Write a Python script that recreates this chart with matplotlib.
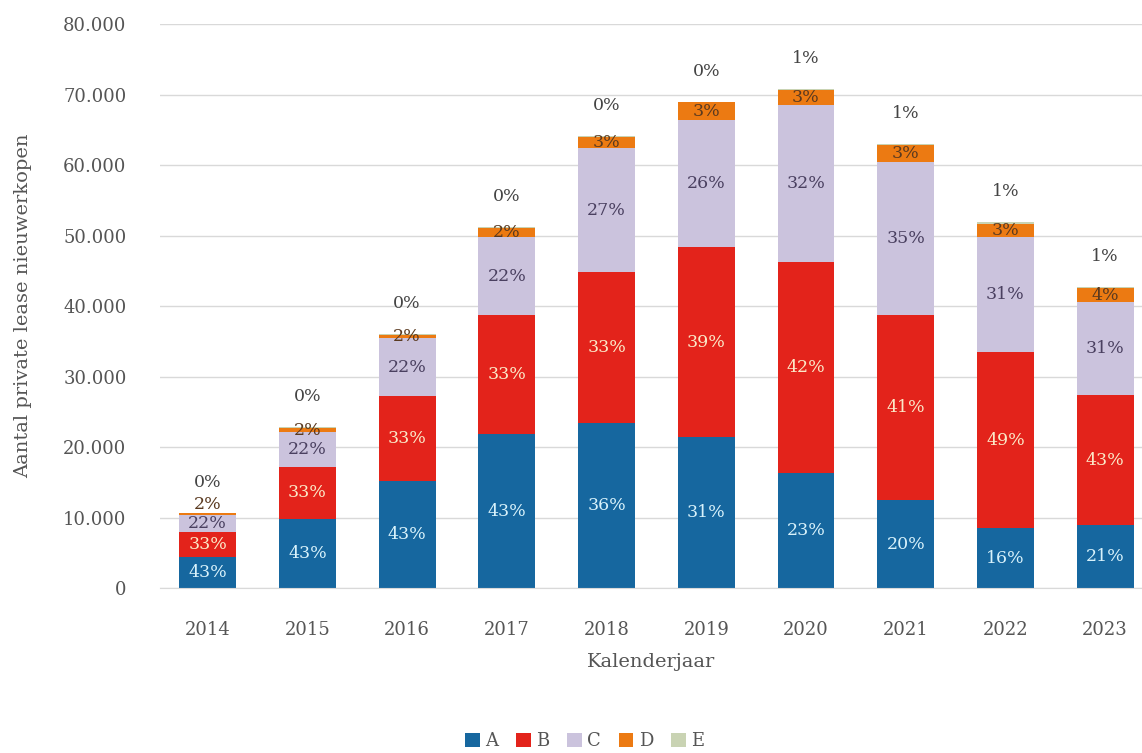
import numpy as np
import matplotlib
matplotlib.use('Agg')
import matplotlib.pyplot as plt

# data
years = ['2014', '2015', '2016', '2017', '2018', '2019', '2020', '2021', '2022', '2023']
series = ['A', 'B', 'C', 'D', 'E']
val_A = [4400, 9800, 15200, 21800, 23400, 21400, 16300, 12500, 8500, 8900]
val_B = [3500, 7400, 12000, 16900, 21400, 27000, 29900, 26200, 25000, 18500]
val_C = [2450, 4900, 8300, 11100, 17600, 18000, 22300, 21700, 16300, 13200]
val_D = [250, 600, 450, 1300, 1600, 2500, 2100, 2400, 1900, 1900]
val_E = [100, 100, 100, 100, 100, 100, 200, 200, 200, 200]

lab_A = ['43%', '43%', '43%', '43%', '36%', '31%', '23%', '20%', '16%', '21%']
lab_B = ['33%', '33%', '33%', '33%', '33%', '39%', '42%', '41%', '49%', '43%']
lab_C = ['22%', '22%', '22%', '22%', '27%', '26%', '32%', '35%', '31%', '31%']
lab_D = ['2%', '2%', '2%', '2%', '3%', '3%', '3%', '3%', '3%', '4%']
lab_E = ['0%', '0%', '0%', '0%', '0%', '0%', '1%', '1%', '1%', '1%']

colors = ['#16679f', '#e3231b', '#cbc3dd', '#ec7a12', '#c9d3b3']
text_colors = ['#d8f2fb', '#fbe9c8', '#4a4060', '#5a3a20', '#444444']

plt.rcParams['font.family'] = ['DejaVu Serif']

fig = plt.figure(figsize=(11.42, 7.53), dpi=100)
ax = fig.add_axes([0.140, 0.219, 0.860, 0.749])

x = np.arange(len(years))
values = [val_A, val_B, val_C, val_D, val_E]
labels = [lab_A, lab_B, lab_C, lab_D, lab_E]
bottom = np.zeros(len(years))
for i, s in enumerate(series):
    v = np.array(values[i], dtype=float)
    ax.bar(x, v, 0.57, bottom=bottom, color=colors[i], label=s, zorder=2)
    for j in range(len(years)):
        if i < 3:
            ax.text(x[j], bottom[j] + v[j] / 2, labels[i][j], ha='center', va='center',
                    fontsize=12.5, color=text_colors[i], zorder=3)
        elif i == 3:
            # tiny segments: nudge the label up a little so it clears the C label
            dy = 7 if v[j] < 400 else 0
            ax.annotate(labels[i][j], (x[j], bottom[j] + v[j] / 2), xytext=(0, dy),
                        textcoords='offset points', ha='center', va='center',
                        fontsize=12.5, color=text_colors[i], zorder=3)
        else:
            ax.annotate(labels[i][j], (x[j], bottom[j] + v[j]), xytext=(0, 22),
                        textcoords='offset points', ha='center', va='center',
                        fontsize=12.5, color=text_colors[i])
    bottom += v

ax.set_xlim(-0.48, 9.37)
ax.set_ylim(0, 80000)
ax.set_yticks(np.arange(0, 80001, 10000))
ax.set_yticklabels(['0'] + ['{:,}'.format(t).replace(',', '.') for t in range(10000, 80001, 10000)])
ax.set_xticks(x)
ax.set_xticklabels(years)
ax.grid(axis='y', color='#d9d9d9', linewidth=1, zorder=0)
for sp in ['top', 'right', 'left']:
    ax.spines[sp].set_visible(False)
ax.spines['bottom'].set_color('#d9d9d9')
ax.tick_params(length=0, labelsize=13, colors='#555555')
ax.tick_params(axis='x', pad=24)
ax.tick_params(axis='y', pad=24)

ax.set_ylabel('Aantal private lease nieuwerkopen', fontsize=14, color='#555555')
ax.yaxis.set_label_coords(-0.13, 0.5)
ax.set_xlabel('Kalenderjaar', fontsize=14, color='#555555', labelpad=10)

fig.legend(loc='lower center', bbox_to_anchor=(0.512, -0.018), ncol=5, frameon=False,
           fontsize=13, handlelength=0.8, handleheight=0.8, handletextpad=0.3,
           columnspacing=1.0, labelcolor='#555555')

fig.savefig('out.png', dpi=100)
